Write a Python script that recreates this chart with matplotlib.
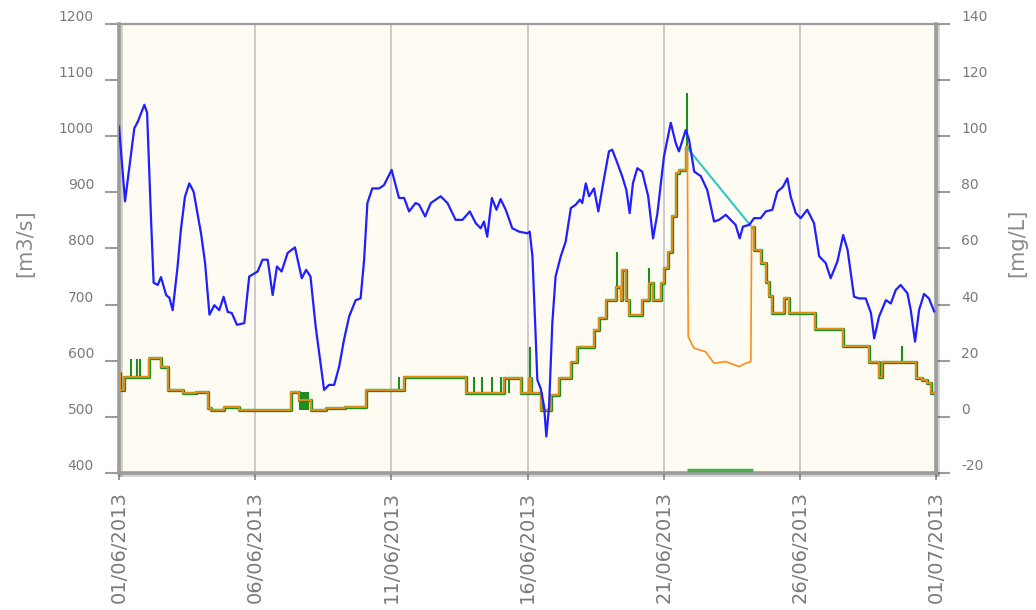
from datetime import datetime
import numpy as np
import matplotlib
matplotlib.use("Agg")
import matplotlib.pyplot as plt
import matplotlib.dates as mdates
from matplotlib import patheffects as pe

plt.rcParams["font.family"] = ["DejaVu Sans"]
plt.rcParams["axes.unicode_minus"] = False

# flow [m3/s], days since 01/06/2013
flow_days = [0.00, 0.22, 0.56, 0.69, 0.93, 1.03, 1.18, 1.27, 1.42, 1.54,
             1.73, 1.85, 1.97, 2.15, 2.27, 2.42, 2.58, 2.74, 3.01, 3.16,
             3.32, 3.50, 3.68, 3.84, 3.99, 4.14, 4.33, 4.60, 4.78, 5.09,
             5.27, 5.46, 5.64, 5.80, 5.97, 6.19, 6.46, 6.71, 6.87, 7.03,
             7.22, 7.53, 7.71, 7.90, 8.08, 8.26, 8.45, 8.69, 8.87, 9.00,
             9.12, 9.30, 9.55, 9.73, 10.01, 10.28, 10.47, 10.65, 10.89, 11.02,
             11.24, 11.45, 11.81, 12.06, 12.36, 12.61, 12.88, 13.10, 13.28, 13.40,
             13.52, 13.69, 13.86, 14.01, 14.20, 14.44, 14.69, 15.00, 15.08, 15.18,
             15.28, 15.36, 15.48, 15.61, 15.69, 15.79, 15.91, 16.03, 16.22, 16.40,
             16.59, 16.77, 16.92, 17.01, 17.14, 17.26, 17.44, 17.60, 17.81, 17.99,
             18.11, 18.30, 18.48, 18.63, 18.75, 18.87, 19.03, 19.21, 19.43, 19.61,
             19.77, 20.01, 20.26, 20.44, 20.56, 20.81, 20.93, 21.12, 21.36, 21.60,
             21.85, 22.03, 22.28, 22.46, 22.64, 22.79, 22.91, 23.14, 23.32, 23.56,
             23.75, 23.99, 24.17, 24.38, 24.54, 24.66, 24.85, 25.03, 25.27, 25.52,
             25.71, 25.95, 26.13, 26.38, 26.59, 26.75, 26.99, 27.18, 27.42, 27.61,
             27.73, 27.91, 28.16, 28.34, 28.52, 28.70, 28.95, 29.07, 29.23, 29.38,
             29.56, 29.74, 29.93]
flow_vals = [1017, 884, 1014, 1026, 1056, 1042, 846, 739, 735, 749,
             717, 712, 690, 768, 833, 892, 916, 901, 827, 774,
             682, 699, 690, 714, 687, 685, 664, 667, 750, 759,
             780, 780, 717, 768, 759, 792, 802, 747, 762, 750,
             661, 548, 557, 557, 589, 637, 679, 708, 711, 780,
             881, 907, 907, 913, 940, 890, 890, 866, 881, 878,
             857, 881, 893, 881, 851, 851, 866, 845, 836, 848,
             821, 890, 869, 888, 869, 836, 830, 827, 830, 786,
             667, 566, 551, 518, 465, 518, 667, 750, 786, 812,
             872, 878, 887, 881, 916, 893, 907, 866, 925, 973,
             976, 952, 928, 904, 863, 916, 943, 937, 893, 818,
             863, 964, 1024, 988, 973, 1011, 994, 937, 929, 904,
             848, 851, 860, 851, 842, 818, 839, 842, 854, 854,
             866, 869, 901, 910, 925, 893, 863, 854, 869, 845,
             786, 774, 747, 777, 824, 798, 714, 711, 711, 685,
             640, 679, 708, 702, 726, 735, 720, 691, 634, 691,
             719, 711, 688]

# concentration [mg/L], stepped
conc_days = [0.00, 0.02, 0.17, 1.11, 1.54, 1.79, 2.34, 2.83, 3.26, 3.38,
             3.87, 4.42, 6.32, 6.62, 7.05, 7.60, 8.30, 9.06, 10.47, 12.73,
             14.14, 14.75, 15.06, 15.12, 15.49, 15.85, 16.16, 16.59, 16.83, 17.44,
             17.63, 17.87, 18.24, 18.42, 18.48, 18.61, 18.73, 19.22, 19.46, 19.59,
             19.89, 20.01, 20.14, 20.32, 20.44, 20.56, 20.81, 20.89, 23.23, 23.32,
             23.57, 23.75, 23.87, 23.99, 24.42, 24.61, 25.56, 26.59, 27.54, 27.91,
             28.03, 29.26, 29.50, 29.68, 29.81, 30.00]
conc_vals = [15.5, 9.6, 14.3, 20.9, 17.9, 9.6, 8.4, 9.0, 3.1, 2.5,
             3.6, 2.5, 9.0, 6.0, 2.5, 3.1, 3.6, 9.6, 14.3, 8.4,
             13.8, 8.4, 13.8, 8.4, 2.5, 7.8, 13.8, 19.7, 25.0, 31.0,
             35.2, 41.7, 46.4, 41.7, 52.4, 41.7, 36.3, 41.7, 47.6, 41.7,
             47.6, 53.0, 58.9, 71.4, 86.8, 88.0, 96.3, np.nan, 67.8, 59.5,
             54.8, 48.2, 42.9, 36.9, 42.3, 36.9, 31.2, 25.3, 19.7, 14.3,
             19.7, 13.8, 13.2, 12.0, 8.4, 8.4]

# orange dip between 21/06 and 24/06
dip_days = [20.87, 20.90, 21.11, 21.54, 21.85, 22.28, 22.77, 23.01, 23.20, 23.23]
dip_vals = [96.3, 28.6, 24.5, 23.2, 19.1, 19.7, 17.9, 19.1, 19.7, 67.8]

# green spikes
spike_days = [0.45, 0.67, 0.76, 6.65, 6.72, 6.80, 6.88, 6.95, 10.28, 13.04,
              13.33, 13.70, 14.01, 14.32, 15.08, 18.27, 19.46, 20.85, 28.74]
spike_lo = [14.3, 14.3, 14.3, 2.5, 2.5, 2.5, 2.5, 2.5, 9.6, 8.4,
            8.4, 8.4, 8.4, 8.4, 8.4, 46.4, 41.7, 88.0, 19.7]
spike_hi = [20.5, 20.5, 20.5, 9.0, 9.0, 9.0, 9.0, 9.0, 14.3, 14.3,
            14.3, 14.3, 14.3, 13.8, 25.0, 58.9, 53.0, 115.4, 25.3]

flag_days = [20.85, 23.28]
flag_vals = [-19.0, -19.0]

cyan_days = [20.87, 23.17]
cyan_vals = [95.8, 68.4]

t0 = mdates.date2num(datetime(2013, 6, 1))
def dx(d):
    return t0 + np.asarray(d, dtype=float)

GREY = "#9c9c9c"
TXT = "#7a7a7a"

fig = plt.figure(figsize=(10.36, 6.10), dpi=100)
ax = fig.add_axes([0.1149, 0.2246, 0.7886, 0.7361])   # mg/L (right)
ax2 = ax.twinx()                                        # m3/s (left)
ax.set_facecolor("#fdfbf2")

ax.plot(dx(conc_days), conc_vals, drawstyle="steps-post", color="#1e8c1e", lw=2.4, zorder=2)
ax.vlines(dx(spike_days), spike_lo, spike_hi, color="#1e8c1e", lw=1.5, zorder=2)
ax.plot(dx(conc_days), conc_vals, drawstyle="steps-post", color="#ff8c1a", lw=1.2, zorder=3)
ax.plot(dx(dip_days), dip_vals, color="#ff8c1a", lw=1.2, zorder=3)
ax.plot(dx(flag_days), flag_vals, color="#4caf4c", lw=2.5, zorder=3, solid_capstyle="butt")
ax.plot(dx(cyan_days), cyan_vals, color="#2ec8c8", lw=1.5, zorder=4)

ax2.plot(dx(flow_days), flow_vals, color="#1f1fff", lw=1.6, solid_joinstyle="round")

ax.set_xlim(dx(0), dx(30))
ax.set_ylim(-20, 140)
ax2.set_ylim(400, 1200)

ax.set_xticks(dx([0, 5, 10, 15, 20, 25, 30]))
ax.xaxis.set_major_formatter(mdates.DateFormatter("%d/%m/%Y"))
ax.grid(axis="x", color="#c8c8c8", lw=1.3)
ax.set_axisbelow(True)

ax.yaxis.tick_right()
ax2.yaxis.tick_left()
ax.set_yticks(np.arange(-20, 141, 20))
ax2.set_yticks(np.arange(400, 1201, 100))

ax.tick_params(axis="x", length=5, width=1.5, color=GREY, labelcolor=TXT,
               labelsize=14, labelrotation=90, pad=8)
ax.tick_params(axis="y", length=10, width=1.5, color=GREY, labelcolor=TXT,
               labelsize=10, pad=8)
ax2.tick_params(axis="y", length=10, width=1.5, color=GREY, labelcolor=TXT,
                labelsize=10, pad=8)
for lbl in ax.get_yticklabels() + ax2.get_yticklabels():
    lbl.set_verticalalignment("bottom")

shadow = [pe.SimpleLineShadow(offset=(1.5, -1.5), shadow_color="k", alpha=0.18), pe.Normal()]
for name, sp in ax.spines.items():
    sp.set_color(GREY)
    sp.set_linewidth(1.6 if name == "top" else 2.6)
    if name != "top":
        sp.set_path_effects(shadow)
for sp in ax2.spines.values():
    sp.set_visible(False)

fig.text(25 / 1036, 1 - 243 / 610, "[m3/s]", rotation=90, ha="center", va="center",
         fontsize=15, color="#8a8a8a")
fig.text(1017 / 1036, 1 - 243 / 610, "[mg/L]", rotation=90, ha="center", va="center",
         fontsize=15, color="#8a8a8a")

fig.savefig("out.png", dpi=100, facecolor="white")
